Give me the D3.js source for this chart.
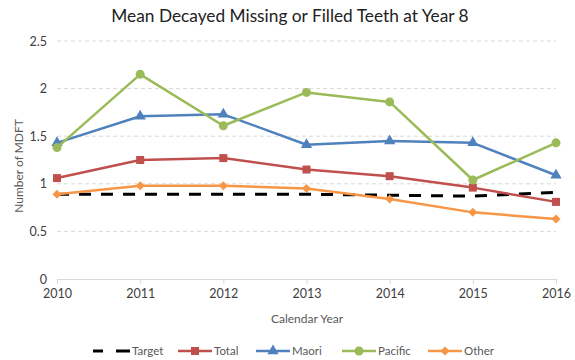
<!DOCTYPE html>
<html><head><meta charset="utf-8">
<script src="https://cdn.jsdelivr.net/npm/d3@7"></script>
<style>body{margin:0;background:#fff}text{font-family:Lato,"Open Sans",sans-serif}</style>
</head><body><svg id="c" width="575" height="360"></svg>
<script>
const years = [2010, 2011, 2012, 2013, 2014, 2015, 2016];
const target = [0.89, 0.89, 0.89, 0.89, 0.88, 0.87, 0.91];
const total = [1.06, 1.25, 1.27, 1.15, 1.08, 0.96, 0.81];
const maori = [1.43, 1.71, 1.73, 1.41, 1.45, 1.43, 1.09];
const pacific = [1.38, 2.15, 1.61, 1.96, 1.86, 1.04, 1.43];
const other = [0.89, 0.98, 0.98, 0.95, 0.84, 0.70, 0.63];
const yTicks = [0, 0.5, 1, 1.5, 2, 2.5];
const seriesNames = ["Target", "Total", "Maori", "Pacific", "Other"];

const series = [
  {name: "Target", values: target, color: "#000", marker: null, dash: "12,10", width: 3},
  {name: "Total", values: total, color: "#C0504D", marker: "square", width: 2.5},
  {name: "Maori", values: maori, color: "#4F81BD", marker: "triangle", width: 2.5},
  {name: "Pacific", values: pacific, color: "#9BBB59", marker: "circle", width: 2.5},
  {name: "Other", values: other, color: "#F79646", marker: "diamond", width: 2.5}
];

const svg = d3.select("#c");
const x = d3.scaleLinear().domain([2010, 2016]).range([57, 556]);
const y = d3.scaleLinear().domain([0, 2.5]).range([279, 41]);

// title
svg.append("text").attr("x", 290).attr("y", 22).attr("text-anchor", "middle")
  .attr("font-size", 17.3).attr("fill", "#222").text("Mean Decayed Missing or Filled Teeth at Year 8");

// gridlines
svg.append("g").selectAll("line").data(yTicks.filter(d => d > 0)).join("line")
  .attr("x1", 57).attr("x2", 556).attr("y1", d => y(d)).attr("y2", d => y(d))
  .attr("stroke", "#d9d9d9").attr("stroke-width", 1).attr("stroke-dasharray", "4,3");

// y axis labels
const yAxis = d3.axisLeft(y).tickValues(yTicks).tickSize(0).tickPadding(0).tickFormat(d3.format("~g"));
const gy = svg.append("g").attr("transform", "translate(47,0)").call(yAxis);
gy.select(".domain").remove();
gy.selectAll("text").attr("font-size", 12.5).attr("fill", "#404040").attr("font-family", "Lato,'Open Sans',sans-serif");

// x axis
const xAxis = d3.axisBottom(x).tickValues(years).tickFormat(d3.format("d")).tickSize(5).tickPadding(5).tickSizeOuter(0);
const gx = svg.append("g").attr("transform", "translate(0,279)").call(xAxis);
gx.select(".domain").attr("stroke", "#d9d9d9");
gx.selectAll(".tick line").attr("stroke", "#d9d9d9");
gx.selectAll("text").attr("font-size", 12.5).attr("fill", "#404040").attr("font-family", "Lato,'Open Sans',sans-serif");

// axis titles
svg.append("text").attr("x", 307).attr("y", 323).attr("text-anchor", "middle")
  .attr("font-size", 12).attr("fill", "#595959").text("Calendar Year");
svg.append("text").attr("transform", "translate(23,166) rotate(-90)").attr("text-anchor", "middle")
  .attr("font-size", 12).attr("fill", "#595959").text("Number of MDFT");

function marker(g, type, cx, cy, color) {
  if (type === "square") g.append("rect").attr("x", cx - 4).attr("y", cy - 4).attr("width", 8).attr("height", 8).attr("fill", color);
  else if (type === "triangle") g.append("path").attr("d", d3.symbol(d3.symbolTriangle, 55)()).attr("transform", `translate(${cx},${cy})`).attr("fill", color);
  else if (type === "circle") g.append("circle").attr("cx", cx).attr("cy", cy).attr("r", 4.5).attr("fill", color);
  else if (type === "diamond") g.append("path").attr("d", "M0,-4.5L4.5,0L0,4.5L-4.5,0Z").attr("transform", `translate(${cx},${cy})`).attr("fill", color);
}

const line = d3.line().x((d, i) => x(years[i])).y(d => y(d));
const drawOrder = ["Target", "Other", "Total", "Maori", "Pacific"];
drawOrder.forEach(n => {
  const s = series.find(d => d.name === n);
  const g = svg.append("g");
  g.append("path").attr("d", line(s.values)).attr("fill", "none").attr("stroke", s.color)
    .attr("stroke-width", s.width).attr("stroke-dasharray", s.dash || null).attr("stroke-linejoin", "round");
  if (s.marker) s.values.forEach((v, i) => marker(g, s.marker, x(years[i]), y(v), s.color));
});

// legend
const legX = [93, 178, 256, 342, 428];
seriesNames.forEach((n, i) => {
  const s = series.find(d => d.name === n);
  const g = svg.append("g");
  const lx = legX[i], ly = 351, len = 34;
  if (s.dash) {
    g.append("line").attr("x1", lx).attr("x2", lx + 10).attr("y1", ly).attr("y2", ly).attr("stroke", s.color).attr("stroke-width", 3);
    g.append("line").attr("x1", lx + 23).attr("x2", lx + 37).attr("y1", ly).attr("y2", ly).attr("stroke", s.color).attr("stroke-width", 3);
  } else {
    g.append("line").attr("x1", lx).attr("x2", lx + len).attr("y1", ly).attr("y2", ly)
      .attr("stroke", s.color).attr("stroke-width", 2.5);
    marker(g, s.marker, lx + len / 2, ly, s.color);
  }
  g.append("text").attr("x", lx + (s.dash ? 39 : 36)).attr("y", ly + 4).attr("font-size", 11.5)
    .attr("fill", "#595959").text(s.name);
});
</script></body></html>
